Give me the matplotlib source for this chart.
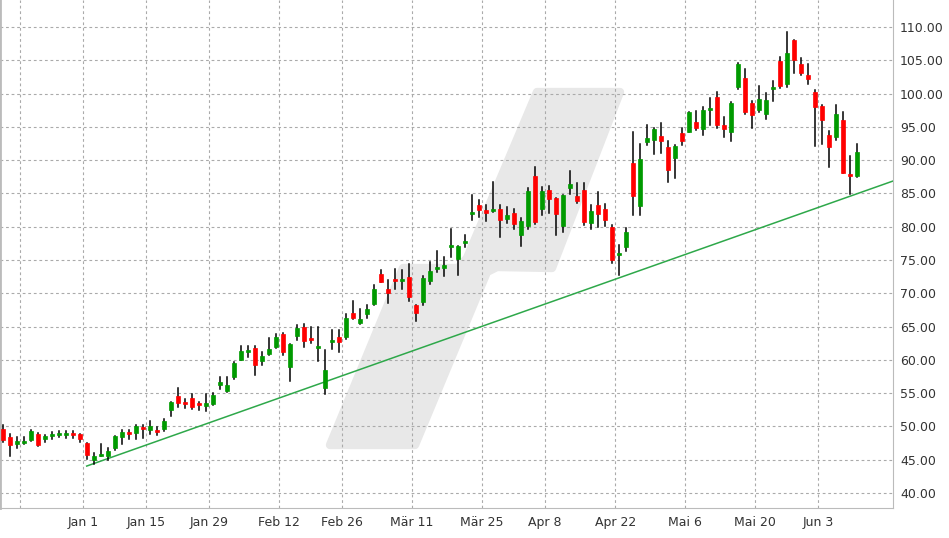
import matplotlib
matplotlib.use("Agg")
import matplotlib.pyplot as plt
from matplotlib.patches import Polygon, Rectangle
import numpy as np

# OHLC per trading day (index 0..122)
opens = [49.55,48.4,47.4,47.45,47.9,48.85,48.05,48.55,48.7,48.7,49.0,48.85,47.5,44.9,45.5,45.5,46.7,48.4,49.15,49.0,49.85,49.4,49.45,
         49.6,52.5,54.5,53.6,54.3,53.4,53.0,53.35,56.2,55.4,57.5,60.05,61.25,61.85,59.9,60.95,62.0,63.95,58.9,63.55,65.0,63.2,61.75,55.8,
         62.75,63.5,63.5,67.0,65.55,66.9,68.4,72.9,70.65,72.15,71.9,72.45,68.25,68.75,71.9,73.65,73.8,77.0,75.1,77.6,81.95,83.25,82.5,
         82.4,82.65,81.2,82.05,78.8,80.15,87.6,82.65,85.5,84.3,80.15,85.85,84.6,85.5,80.6,83.25,82.65,79.95,75.75,77.0,
         89.6,83.05,92.8,93.1,93.65,92.0,90.4,94.1,94.3,95.75,94.7,97.55,99.5,95.3,94.25,101.05,102.35,98.6,97.55,96.95,
         100.7,104.9,101.5,108.05,104.45,102.8,100.25,98.15,93.8,93.55,96.05,87.8,87.55]
highs = [50.15,48.9,48.4,48.4,49.4,49.05,48.65,49.15,49.3,49.3,49.3,48.9,47.5,46.0,47.3,46.7,48.6,49.45,49.45,50.15,50.15,50.8,49.9,
         51.15,53.6,55.8,54.15,54.9,53.7,54.8,54.95,57.5,57.5,59.65,62.15,62.15,62.15,61.25,63.35,63.85,64.1,62.45,65.2,65.45,65.0,65.0,61.55,
         64.5,64.5,66.9,68.85,67.65,68.25,71.25,73.5,72.0,73.65,73.5,74.35,68.25,72.6,74.7,76.35,75.4,79.65,77.1,78.75,84.75,84.0,83.25,
         86.7,83.25,82.95,82.65,81.35,85.8,88.9,86.0,86.1,84.3,84.75,88.35,86.55,86.55,83.25,85.2,83.4,80.25,77.25,79.85,
         94.25,92.45,95.3,94.85,95.6,92.9,92.3,94.85,97.25,97.4,98.0,99.35,100.25,96.5,98.75,104.6,103.7,98.9,101.15,100.1,
         101.9,105.5,109.25,108.05,105.35,104.45,100.55,98.3,94.4,98.3,97.3,90.65,92.45]
lows = [47.65,45.5,46.75,47.4,47.75,47.0,47.65,48.05,48.4,48.25,48.25,47.65,45.05,44.3,45.5,44.9,46.4,47.4,48.05,48.05,48.25,48.9,48.65,
        49.3,51.55,52.9,52.8,52.65,52.5,52.3,53.25,55.65,55.15,57.1,60.05,60.4,57.7,59.2,60.8,61.85,60.8,56.9,62.95,61.9,62.6,59.9,54.8,
        61.65,61.25,63.15,66.15,65.4,66.3,68.3,71.75,68.6,70.65,70.65,68.9,65.9,68.25,71.4,73.2,72.6,75.45,72.75,76.95,81.0,81.45,80.9,
        82.15,78.5,80.5,79.6,77.15,79.7,80.35,81.8,82.1,78.8,79.25,84.85,83.5,80.3,79.6,80.0,80.15,74.5,72.7,76.4,
        81.75,81.75,92.35,91.0,91.15,86.65,87.25,92.35,94.3,94.55,93.8,95.3,94.85,93.5,92.9,100.75,96.95,94.85,97.25,96.2,
        98.9,100.9,101.05,103.15,102.8,101.45,92.15,92.5,88.9,93.1,88.0,84.9,87.4]
closes = [47.9,47.15,47.75,47.75,49.25,47.15,48.55,48.85,49.0,49.0,48.7,48.05,45.7,45.5,45.8,46.3,48.55,49.15,48.85,50.0,49.55,50.0,49.15,
          50.8,53.6,53.5,53.35,52.85,53.15,53.45,54.75,56.65,56.3,59.5,61.4,61.55,59.2,60.65,61.7,63.5,61.25,62.45,64.85,62.8,62.95,62.0,58.55,
          63.0,62.7,66.3,66.35,66.15,67.65,70.65,71.75,70.1,71.9,72.15,69.5,67.1,72.3,73.35,73.95,74.25,77.25,77.1,77.9,82.2,82.55,82.1,
          82.65,81.0,81.75,80.45,80.85,85.35,80.65,85.35,84.2,81.95,84.75,86.4,83.9,80.75,82.35,81.95,81.05,75.05,76.0,79.2,
          84.55,90.2,93.35,94.7,92.95,88.45,92.15,92.95,97.25,94.85,97.55,97.85,95.3,94.7,98.6,104.45,97.25,96.85,99.2,99.05,
          101.0,101.15,106.1,105.05,103.15,102.25,98.05,96.1,92.05,96.95,88.0,87.55,91.25]

tick_pos = [11.5, 20.5, 29.5, 39.5, 48.5, 58.5, 68.5, 77.5, 87.5, 97.5, 107.5, 116.5]
tick_labels = ["Jan 1", "Jan 15", "Jan 29", "Feb 12", "Feb 26", "Mär 11", "Mär 25",
               "Apr 8", "Apr 22", "Mai 6", "Mai 20", "Jun 3"]
grid_x = [2.5] + tick_pos
y_ticks = list(range(40, 111, 5))
trend_x = [12, 127.2]
trend_y = [44.05, 86.87]

fig = plt.figure(figsize=(9.49, 5.38), dpi=100)
ax = fig.add_axes([0.0, 30/538, 893/949, 508/538])
ax.set_xlim(-0.386, 127.19)
ax.set_ylim(37.75, 114.06)

# watermark (axes fraction)
wm_px = [(330,445),(415,445),(487,272),(497,267),(552,268),(620,92),(537,92),(467,258),(458,268),(403,268)]
wm = [(x/893, 1 - y/508) for x, y in wm_px]
ax.add_patch(Polygon(wm, closed=True, transform=ax.transAxes, facecolor="#e8e8e8",
                     edgecolor="#e8e8e8", linewidth=6, joinstyle="round", zorder=0))

for gx in grid_x:
    ax.axvline(gx, color="#aaaaaa", lw=0.8, ls=(0, (2.5, 2.5)), zorder=1)
for gy in y_ticks:
    ax.axhline(gy, color="#aaaaaa", lw=0.8, ls=(0, (2.5, 2.5)), zorder=1)

ax.plot(trend_x, trend_y, color="#2ea84a", lw=1.1, zorder=2)

w = 0.62
for i, (o, h, l, c) in enumerate(zip(opens, highs, lows, closes)):
    col = "#009a00" if c >= o else "#ff0000"
    ax.plot([i, i], [l, h], color="black", lw=1.1, zorder=3)
    bot = min(o, c); hgt = max(abs(c - o), 0.3)
    ax.add_patch(Rectangle((i - w/2, bot), w, hgt, facecolor=col, edgecolor=col, lw=0.5, zorder=4))

ax.yaxis.tick_right()
ax.set_yticks(y_ticks)
ax.set_yticklabels([f"{v:.2f}" for v in y_ticks])
ax.set_xticks(tick_pos)
ax.set_xticklabels(tick_labels)
ax.tick_params(axis="both", labelsize=9, colors="#333333", length=0, pad=6)
ax.tick_params(axis="y", pad=5)
for s in ["top"]:
    ax.spines[s].set_visible(False)
for s in ["left", "right", "bottom"]:
    ax.spines[s].set_color("#bbbbbb")
ax.spines["left"].set_linewidth(2)

fig.savefig("out.png", dpi=100)
